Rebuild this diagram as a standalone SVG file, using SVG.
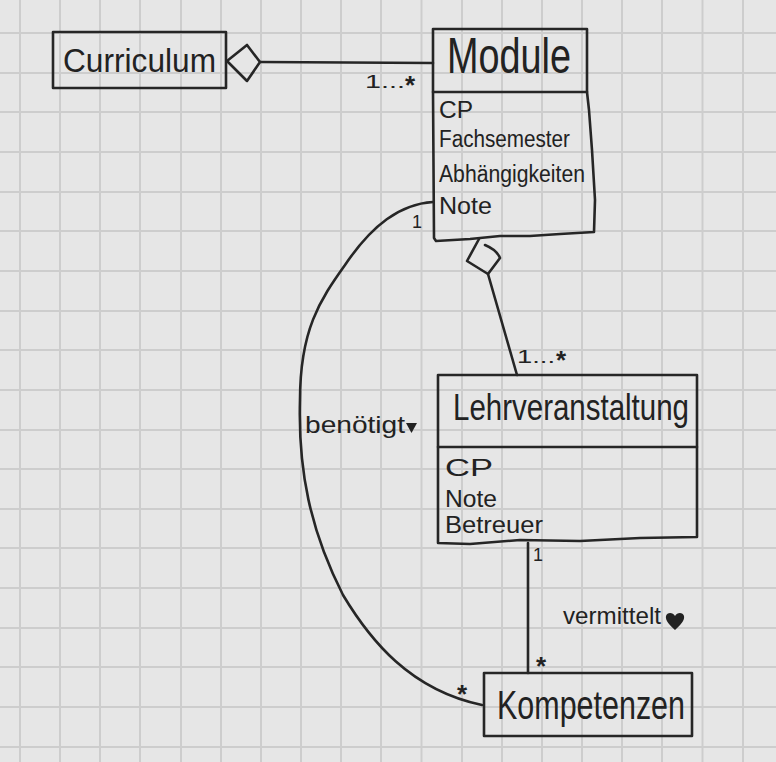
<svg xmlns="http://www.w3.org/2000/svg" width="776" height="762" viewBox="0 0 776 762">
<style>
.bg{fill:#e6e6e6}
.grid{stroke:#cdcdcd;stroke-width:2;fill:none}
.ink{stroke:#262626;stroke-width:2.6;fill:none;stroke-linejoin:round;stroke-linecap:round}
.t{font-family:"Liberation Sans","DejaVu Sans",sans-serif;fill:#222}
.title{font-size:34px}
.attr{font-size:23px}
.lbl{font-size:18px}
.star{font-size:26px;font-weight:bold}
</style>
<rect class="bg" x="0" y="0" width="776" height="762"/>
<path class="grid" d="M20 0V762M60 0V762M100 0V762M140 0V762M181 0V762M221 0V762M261 0V762M301 0V762M341 0V762M381 0V762M421.5 0V762M462 0V762M502 0V762M542 0V762M582 0V762M622 0V762M662 0V762M702.5 0V762M743 0V762M0 33H776M0 73H776M0 112H776M0 152H776M0 192H776M0 231H776M0 271H776M0 311H776M0 350H776M0 390H776M0 430H776M0 469H776M0 509H776M0 548H776M0 588H776M0 628H776M0 667H776M0 707H776M0 747H776"/>

<g id="connectors">
  <path class="ink" d="M227 61 L247 45 L260 62 L247 81 Z"/>
  <path class="ink" d="M260 62 L433 63"/>
  <text class="t lbl" x="365" y="88" textLength="40" lengthAdjust="spacingAndGlyphs">1...</text>
  <text class="t star" x="405" y="94">*</text>
  <path class="ink" d="M479 239 L467 261 L488 274 L500 258 Q497 250 485 245"/>
  <path class="ink" d="M488 274 L517 375"/>
  <text class="t lbl" x="517" y="363" textLength="38" lengthAdjust="spacingAndGlyphs">1...</text>
  <text class="t star" x="556" y="369">*</text>
  <path class="ink" d="M433 202 C400 204 372 225 345 265 C320 300 300 330 300 400 C298 470 310 530 343 595 C370 640 410 690 482 705"/>
  <text class="t lbl" x="412" y="228">1</text>
  <text class="t" x="305" y="433" font-size="24" textLength="100" lengthAdjust="spacingAndGlyphs">benötigt</text>
  <path d="M406 423 L417 423 L411.5 433 Z" fill="#222"/>
  <text class="t star" x="457" y="703">*</text>
  <path class="ink" d="M528 543 L528 673"/>
  <text class="t lbl" x="533" y="561">1</text>
  <text class="t star" x="536" y="675">*</text>
  <text class="t" x="563" y="624" font-size="24" textLength="98" lengthAdjust="spacingAndGlyphs">vermittelt</text>
  <path d="M675 630 C670 625 665 621 666 616 C667 612 673 612 675 616 C677 612 683 612 684 616 C685 621 680 625 675 630 Z" fill="#222"/>
</g>

<g id="curriculum">
  <rect class="ink" x="53" y="32" width="173" height="56"/>
  <text class="t title" x="63" y="72" textLength="153" lengthAdjust="spacingAndGlyphs">Curriculum</text>
</g>

<g id="module">
  <rect class="ink" x="433" y="29" width="154" height="63"/>
  <text class="t" x="447" y="73" font-size="50" textLength="124" lengthAdjust="spacingAndGlyphs">Module</text>
  <path class="ink" d="M433 92 L434 238 L436 241 L470 239 L500 236 L530 236 L560 234 L594 232 L595 200 L592 150 L589 110 L587 92"/>
  <text class="t attr" x="439" y="118" textLength="34" lengthAdjust="spacingAndGlyphs">CP</text>
  <text class="t attr" x="439" y="147" textLength="131" lengthAdjust="spacingAndGlyphs">Fachsemester</text>
  <text class="t attr" x="439" y="182" textLength="146" lengthAdjust="spacingAndGlyphs">Abhängigkeiten</text>
  <text class="t attr" x="439" y="214" textLength="53" lengthAdjust="spacingAndGlyphs">Note</text>
</g>

<g id="lehrveranstaltung">
  <rect class="ink" x="438" y="375" width="259" height="72"/>
  <text class="t" x="453" y="420" font-size="36" textLength="236" lengthAdjust="spacingAndGlyphs">Lehrveranstaltung</text>
  <path class="ink" d="M438 447 L438 543 L470 544 L520 540 L580 541 L640 538 L697 537 L697 447"/>
  <text class="t attr" x="445" y="476" textLength="48" lengthAdjust="spacingAndGlyphs">CP</text>
  <text class="t attr" x="445" y="507" textLength="52" lengthAdjust="spacingAndGlyphs">Note</text>
  <text class="t attr" x="445" y="533" textLength="98" lengthAdjust="spacingAndGlyphs">Betreuer</text>
</g>

<g id="kompetenzen">
  <rect class="ink" x="484" y="673" width="208" height="63"/>
  <text class="t" x="497" y="719" font-size="40" textLength="188" lengthAdjust="spacingAndGlyphs">Kompetenzen</text>
</g>
</svg>
